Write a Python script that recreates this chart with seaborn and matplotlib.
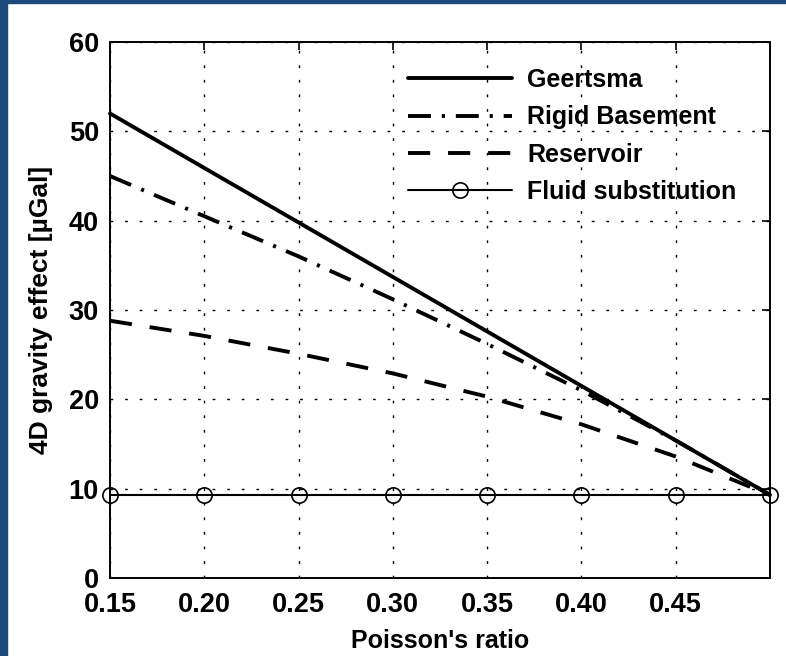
import matplotlib
matplotlib.use("Agg")
import matplotlib.pyplot as plt
import seaborn as sns
import pandas as pd
from matplotlib.patches import Rectangle

sns.set_style("white")
plt.rcParams['font.family'] = ['Liberation Sans', 'DejaVu Sans']
plt.rcParams['font.weight'] = 'bold'
plt.rcParams['text.color'] = 'black'
plt.rcParams['axes.labelcolor'] = 'black'
plt.rcParams['xtick.color'] = 'black'
plt.rcParams['ytick.color'] = 'black'

poisson = [0.15, 0.20, 0.25, 0.30, 0.35, 0.40, 0.45, 0.50]
geertsma = [52.0, 45.9, 39.8, 33.7, 27.6, 21.5, 15.4, 9.3]
rigid = [45.0, 40.5, 36.0, 31.2, 26.2, 21.0, 15.4, 9.3]
reservoir = [28.8, 27.1, 25.1, 22.9, 20.3, 17.2, 13.6, 9.3]
fluid = [9.3, 9.3, 9.3, 9.3, 9.3, 9.3, 9.3, 9.3]
xtick_labels = ["0.15", "0.20", "0.25", "0.30", "0.35", "0.40", "0.45", ""]

series = ["Geertsma", "Rigid Basement", "Reservoir", "Fluid substitution"]
df = pd.DataFrame({
    "nu": poisson * 4,
    "g": geertsma + rigid + reservoir + fluid,
    "model": sum([[s] * len(poisson) for s in series], []),
})

fig = plt.figure(figsize=(7.86, 6.56), dpi=100)
ax = fig.add_axes([110/786, 78/656, 660/786, 536/656])

styles = {
    "Geertsma": dict(ls="-", lw=2.8, marker=None),
    "Rigid Basement": dict(ls=(0, (5.9, 2.8, 0.8, 2.8)), lw=2.8, marker=None),
    "Reservoir": dict(ls=(0, (5.7, 4.6)), lw=2.8, marker=None),
    "Fluid substitution": dict(ls="-", lw=1.5, marker="o"),
}
for s in series:
    sub = df[df.model == s]
    st = styles[s]
    sns.lineplot(data=sub, x="nu", y="g", ax=ax, color="black", label=s,
                 linestyle=st["ls"], linewidth=st["lw"], marker=st["marker"],
                 markersize=11, markerfacecolor="none", markeredgecolor="black",
                 markeredgewidth=1.2, clip_on=False)

ax.set_xlim(0.15, 0.50)
ax.set_ylim(0, 60)
ax.set_xticks(poisson)
ax.set_xticklabels(xtick_labels)
ax.set_yticks([0, 10, 20, 30, 40, 50, 60])
ax.tick_params(direction="in", length=6, width=1.2, top=True, right=True,
               labelsize=19.5, colors="black")
ax.tick_params(axis="x", pad=10)
ax.tick_params(axis="y", pad=8)
for lab in ax.get_xticklabels() + ax.get_yticklabels():
    lab.set_fontweight("bold")
ax.grid(True, linestyle=(0, (2, 8.5)), color="black", linewidth=1.0)
for sp in ax.spines.values():
    sp.set_color("black")
    sp.set_linewidth(1.4)
ax.set_xlabel("Poisson's ratio", fontsize=18, fontweight="bold", labelpad=8)
ax.set_ylabel("4D gravity effect [\u00b5Gal]", fontsize=19, fontweight="bold", labelpad=11)

leg = ax.legend(loc="upper left", frameon=False, fontsize=18, handlelength=4.16,
                handletextpad=0.6, labelspacing=0.53, borderaxespad=0, borderpad=0,
                bbox_to_anchor=((408 - 110) / 660, (578 - 68) / 536))
for t in leg.get_texts():
    t.set_fontweight("bold")

fig.patches.append(Rectangle((0, 0), 7/786, 1, transform=fig.transFigure,
                             color="#1f4a7e", zorder=10))
fig.patches.append(Rectangle((0, 1 - 3/656), 1, 3/656, transform=fig.transFigure,
                             color="#1f4a7e", zorder=10))

fig.savefig("out.png", dpi=100)
